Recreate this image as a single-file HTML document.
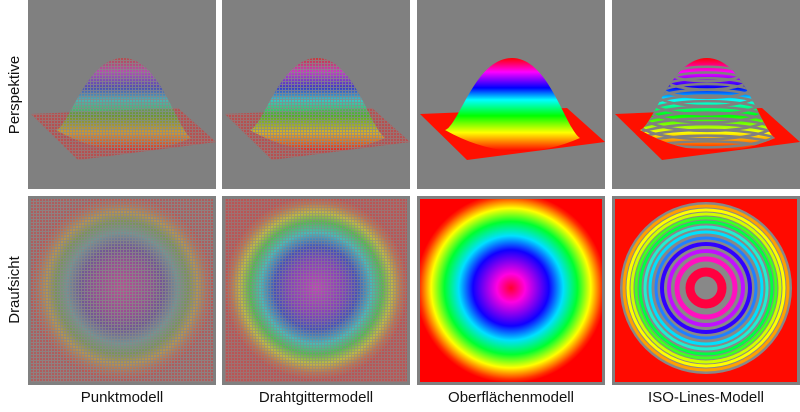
<!DOCTYPE html>
<html><head><meta charset="utf-8"><style>
html,body{margin:0;padding:0;background:#fff;width:800px;height:412px;overflow:hidden}
svg{display:block}
text{font-family:"Liberation Sans",sans-serif;font-size:15px;fill:#111}
</style></head><body>
<svg id="fig" width="800" height="412" viewBox="0 0 800 412">
<defs>
<linearGradient id="domeG" x1="0" y1="0" x2="0" y2="1">
<stop offset="0" stop-color="#ff0000"/><stop offset="0.15" stop-color="#ff00ff"/>
<stop offset="0.32" stop-color="#0000ff"/><stop offset="0.45" stop-color="#00ffff"/>
<stop offset="0.62" stop-color="#00ff00"/><stop offset="0.8" stop-color="#ffff00"/>
<stop offset="1" stop-color="#ff0000"/></linearGradient>
<radialGradient id="surfR" cx="0.5" cy="0.5" r="0.5">
<stop offset="0" stop-color="#ff0030"/><stop offset="0.15" stop-color="#ff00e0"/>
<stop offset="0.4" stop-color="#1000ff"/><stop offset="0.55" stop-color="#00e0ff"/>
<stop offset="0.7" stop-color="#00ff30"/><stop offset="0.84" stop-color="#ffff00"/>
<stop offset="0.96" stop-color="#ff3000"/><stop offset="1" stop-color="#ff0000"/></radialGradient>
<radialGradient id="wireR" cx="0.5" cy="0.5" r="0.5">
<stop offset="0" stop-color="#c040c0"/><stop offset="0.3" stop-color="#8040c0"/>
<stop offset="0.45" stop-color="#4050c0"/><stop offset="0.6" stop-color="#40c0c0"/>
<stop offset="0.72" stop-color="#50c050"/><stop offset="0.82" stop-color="#c0c040"/>
<stop offset="0.92" stop-color="#c07050"/><stop offset="1" stop-color="#c05050"/></radialGradient>
<pattern id="grid" width="3" height="3" patternUnits="userSpaceOnUse">
<rect width="3" height="3" fill="none"/><path d="M0 0.5H3M0.5 0V3" stroke="#888" stroke-width="1"/></pattern>
</defs>
<g id="panels"></g>
<text x="0" y="0" transform="translate(19,95) rotate(-90)" text-anchor="middle">Perspektive</text>
<text x="0" y="0" transform="translate(19,290) rotate(-90)" text-anchor="middle">Draufsicht</text>
</svg>
<script>
const colNames=["Punktmodell","Drahtgittermodell","Oberflächenmodell","ISO-Lines-Modell"];
const colX=[28,222,417,612];
const ringRadii=[16,29,37,44,50,56,61,66,70,74,78,82];
const ringWidths=[9,5,4,4,3,3,3,3,3,3,3,3];
const ringColors=["#ff0040","#ff10c0","#c010ff","#3000ff","#2080ff","#00e0ff","#20f0d0","#00ff40","#40ff20","#d0ff00","#ffff00","#ffa000"];
const NS="http://www.w3.org/2000/svg";
const g=document.getElementById("panels");
function mk(t,a,p){const e=document.createElementNS(NS,t);for(const k in a)e.setAttribute(k,a[k]);(p||g).appendChild(e);return e;}
const W=188,top1=0,h1=189,top2=196,h2=189;
colX.forEach((x,i)=>{
  const tp=mk("g",{});
  
  
  mk("rect",{x:x,y:top1,width:W,height:h1,fill:"#808080"},tp);
  const base=`${x+3},114 ${x+150},108 ${x+188},142 ${x+50},160`;
  const dome=`M${x+28},130 C${x+42},126 ${x+58},58 ${x+95},58 C${x+132},58 ${x+148},128 ${x+163},138 Q${x+95},168 ${x+28},130 Z`;
  if(i<2){
    mk("polygon",{points:base,fill:"#c04848",opacity:0.85},tp);
    mk("polygon",{points:base,fill:"url(#grid)",opacity:0.6},tp);
    mk("path",{d:dome,fill:"url(#domeG)",opacity:i==0?0.4:0.55},tp);
    mk("path",{d:dome,fill:"url(#grid)",opacity:0.75},tp);
  } else {
    mk("polygon",{points:base,fill:"#ff1000"},tp);
    mk("path",{d:dome,fill:"url(#domeG)"},tp);
    if(i==3){
      const cp=mk("clipPath",{id:"dc"+i},tp);
      mk("path",{d:dome},cp);
      for(let y=62;y<160;y+=7){
        mk("ellipse",{cx:x+95,cy:y+12,rx:30+(y-55)*0.7,ry:6+(y-55)*0.18,fill:"none",stroke:"#808080","stroke-width":2.5,"clip-path":"url(#dc"+i+")"},tp);
      }
    }
  }
  const bp=mk("g",{});
  
  
  mk("rect",{x:x,y:top2,width:W,height:h2,fill:"#808080"},bp);
  const cpb=mk("clipPath",{id:"bc"+i},bp);
  mk("rect",{x:x+3,y:top2+3,width:W-6,height:h2-6},cpb);
  const inner=mk("g",{"clip-path":"url(#bc"+i+")"},bp);
  const cx=x+94,cy=top2+92;
  if(i<2){
    mk("rect",{x:x+3,y:top2+3,width:W-6,height:h2-6,fill:"#c05050",opacity:i==0?0.7:0.9},inner);
    mk("circle",{cx:cx,cy:cy,r:92,fill:"url(#wireR)",opacity:i==0?0.55:0.95},inner);
    mk("rect",{x:x+3,y:top2+3,width:W-6,height:h2-6,fill:"url(#grid)",opacity:i==0?0.8:0.55},inner);
  } else if(i==2){
    mk("rect",{x:x+3,y:top2+3,width:W-6,height:h2-6,fill:"#ff0000"},inner);
    mk("circle",{cx:cx,cy:cy,r:95,fill:"url(#surfR)"},inner);
  } else {
    mk("rect",{x:x+3,y:top2+3,width:W-6,height:h2-6,fill:"#ff0a00"},inner);
    mk("circle",{cx:cx,cy:cy,r:86,fill:"#888"},inner);
    ringRadii.forEach((r,k)=>{
      const c=mk("circle",{cx:cx,cy:cy,r:r,fill:"none",stroke:ringColors[k],"stroke-width":ringWidths[k]},inner);
      
      
    });
  }
  const t=mk("text",{x:x+W/2,y:402,"text-anchor":"middle"});
  t.textContent=colNames[i];
  
  
});
</script>
</body></html>
